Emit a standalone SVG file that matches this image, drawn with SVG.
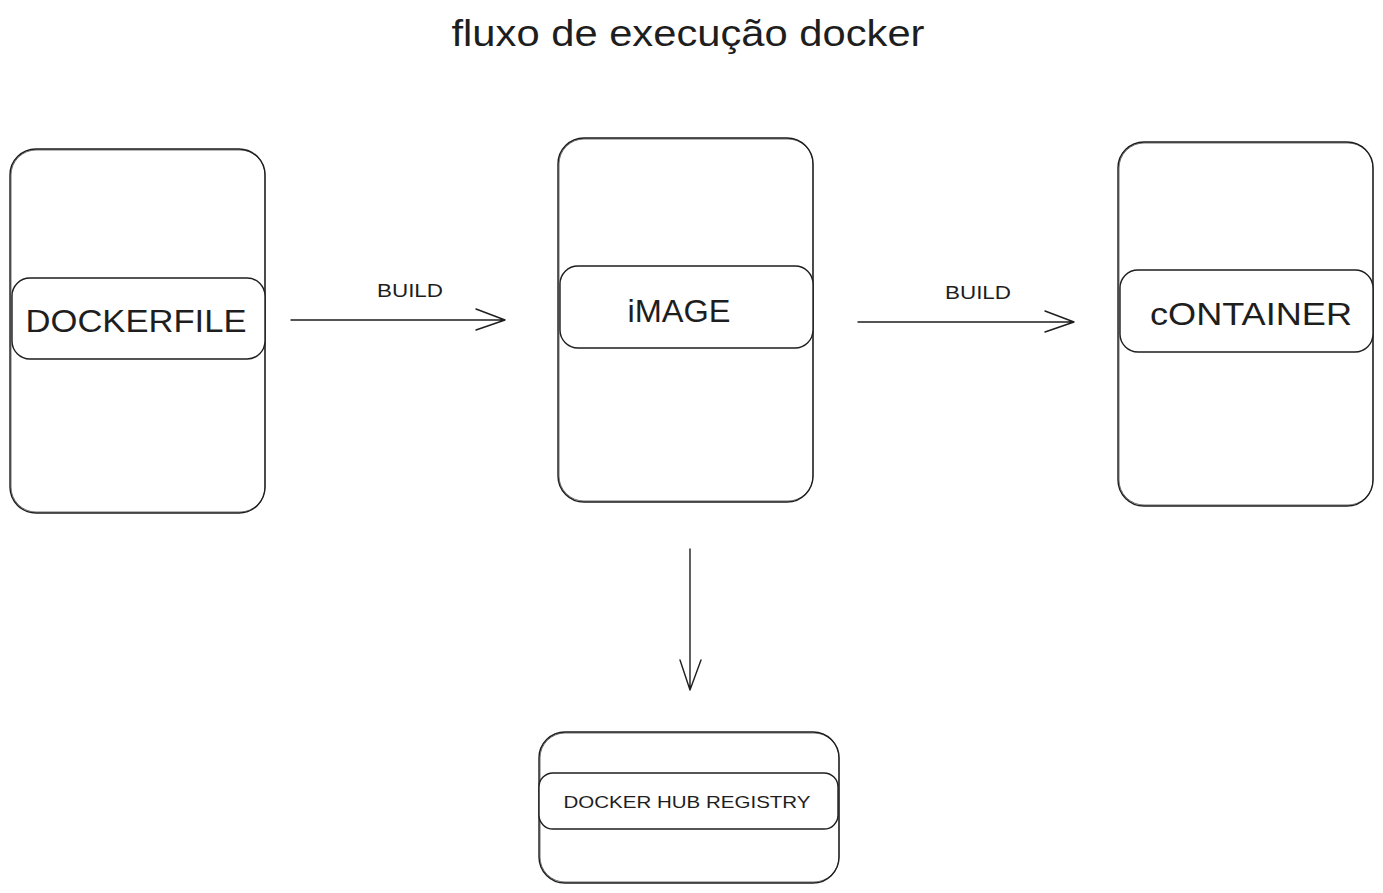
<svg xmlns="http://www.w3.org/2000/svg" width="1383" height="893" viewBox="0 0 1383 893">
<style>
.box{fill:none;stroke:#1e1e1e;stroke-width:1.4}
.box2{fill:none;stroke:#1e1e1e;stroke-width:0.8;opacity:0.8}
.inner{fill:#ffffff;stroke:#1e1e1e;stroke-width:1.4}
.lbl{font-family:"Liberation Sans",Arial,sans-serif;fill:#1e1e1e;text-anchor:middle}
.big{font-size:32px}
.small{font-size:18px}
.edge{fill:none;stroke:#1e1e1e;stroke-width:1.4;stroke-linecap:round;stroke-linejoin:round}
</style>
<rect width="1383" height="893" fill="#ffffff"/>
<text class="lbl" x="688" y="46" font-size="36" textLength="473" lengthAdjust="spacingAndGlyphs">fluxo de execução docker</text>

<g id="dockerfile">
<rect class="box" x="10" y="149" width="255" height="364" rx="26"/>
<rect class="box2" x="11" y="150" width="254" height="362" rx="25"/>
<rect class="inner" x="12" y="278" width="253" height="81" rx="18"/>
<text class="lbl big" x="136" y="332" textLength="221" lengthAdjust="spacingAndGlyphs">DOCKERFILE</text>
</g>

<g id="image">
<rect class="box" x="558" y="138" width="255" height="364" rx="26"/>
<rect class="box2" x="559" y="139" width="254" height="362" rx="25"/>
<rect class="inner" x="560" y="266" width="253" height="82" rx="18"/>
<text class="lbl big" x="679" y="322" textLength="103" lengthAdjust="spacingAndGlyphs">iMAGE</text>
</g>

<g id="container">
<rect class="box" x="1118" y="142" width="255" height="364" rx="26"/>
<rect class="box2" x="1119" y="143" width="254" height="362" rx="25"/>
<rect class="inner" x="1120" y="270" width="253" height="82" rx="18"/>
<text class="lbl big" x="1251" y="325" textLength="202" lengthAdjust="spacingAndGlyphs">cONTAINER</text>
</g>

<g id="registry">
<rect class="box" x="539" y="732" width="300" height="151" rx="26"/>
<rect class="box2" x="540" y="733" width="299" height="149" rx="25"/>
<rect class="inner" x="539" y="773" width="299" height="56" rx="14"/>
<text class="lbl" x="687" y="808" font-size="17" textLength="247" lengthAdjust="spacingAndGlyphs">DOCKER HUB REGISTRY</text>
</g>

<g id="connectors">
<path class="edge" d="M291 320 L505 320 M476 309 L505 320 L476 330"/>
<text class="lbl small" x="410" y="297" textLength="66" lengthAdjust="spacingAndGlyphs">BUILD</text>
<path class="edge" d="M858 322 L1074 322 M1045 311 L1074 322 L1045 332"/>
<text class="lbl small" x="978" y="299" textLength="66" lengthAdjust="spacingAndGlyphs">BUILD</text>
<path class="edge" d="M690 549 L690 690 M680 660 L690 690 L701 660"/>
</g>
</svg>
